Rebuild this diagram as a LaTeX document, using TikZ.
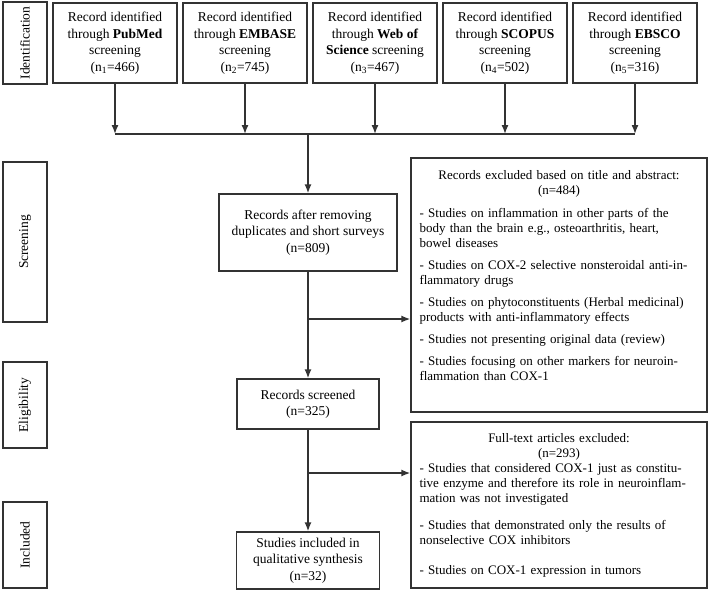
\documentclass[tikz,border=0pt]{standalone}
\usepackage{fontspec}
\setmainfont{Liberation Serif}
\usetikzlibrary{arrows.meta}
\definecolor{linegray}{HTML}{333333}

\begin{document}
\begin{tikzpicture}[x=1pt,y=-1pt,
		phase/.style={draw=linegray, line width=1.4pt, rotate=90, minimum height=44pt, inner sep=0pt, font=\fontsize{13.5}{16}\selectfont},
		srcbox/.style={draw=linegray, line width=1.4pt, minimum width=124pt, minimum height=80pt, inner sep=2pt, align=center, font=\fontsize{13.5}{16.5}\selectfont},
		flowbox/.style={draw=linegray, line width=1.4pt, inner sep=2pt, align=center, font=\fontsize{13.5}{16.3}\selectfont},
		exframe/.style={draw=linegray, line width=1.4pt, minimum width=296pt, inner sep=0pt},
		extext/.style={anchor=north, text width=279pt, inner sep=0pt, align=left, font=\fontsize{13}{15}\selectfont},
		arr/.style={draw=linegray, line width=1.4pt, -{Latex[length=9pt,width=7pt]}}]
					\useasboundingbox (0,0) rectangle (709,592);
					
					%phases
					\node [phase, minimum width=82pt] (ident) at (25,43) {Identification};
					\node [phase, minimum width=160pt] (scrph) at (25,242) {Screening};
					\node [phase, minimum width=86pt] (eligph) at (25,405) {Eligibility};
					\node [phase, minimum width=86pt] (inclph) at (25,545) {Included};
					
					%databases
					\node [srcbox] (pub) at (115,43) {Record identified\\through \textbf{PubMed}\\screening\\(n\textsubscript{1}=466)};
					\node [srcbox] (emb) at (245,43) {Record identified\\through \textbf{EMBASE}\\screening\\(n\textsubscript{2}=745)};
					\node [srcbox] (wos) at (375,43) {Record identified\\through \textbf{Web of}\\\textbf{Science} screening\\(n\textsubscript{3}=467)};
					\node [srcbox] (sco) at (505,43) {Record identified\\through \textbf{SCOPUS}\\screening\\(n\textsubscript{4}=502)};
					\node [srcbox] (ebs) at (635,43) {Record identified\\through \textbf{EBSCO}\\screening\\(n\textsubscript{5}=316)};
					
					%main column
					\node [flowbox, minimum width=178pt, minimum height=77pt] (dedup) at (308,232.5) {Records after removing\\duplicates and short surveys\\(n=809)};
					\node [flowbox, minimum width=142pt, minimum height=50pt] (scr) at (308,404) {Records screened\\(n=325)};
					\node [flowbox, minimum width=143pt, minimum height=57pt] (incl) at (308,560.5) {Studies included in\\qualitative synthesis\\(n=32)};
					
					%excluded
					\node [exframe, minimum height=254pt] (ex1) at (559,285) {};
					\node [extext] (ex1t) at ([yshift=-13pt]ex1.north) {\centering Records excluded based on title and abstract:\\(n=484)\par
						\vspace{8pt}\raggedright
						- Studies on inflammation in other parts of the\\
						body than the brain e.g., osteoarthritis, heart,\\
						bowel diseases\\[7pt]
						- Studies on COX-2 selective nonsteroidal anti-in-\\
						flammatory drugs\\[7pt]
						- Studies on phytoconstituents (Herbal medicinal)\\
						products with anti-inflammatory effects\\[7pt]
						- Studies not presenting original data (review)\\[7pt]
						- Studies focusing on other markers for neuroin-\\
						flammation than COX-1};
					\node [exframe, minimum height=166pt] (ex2) at (559,505) {};
					\node [extext] (ex2t) at ([yshift=-11.5pt]ex2.north) {\centering Full-text articles excluded:\\(n=293)\par
						\raggedright
						- Studies that considered COX-1 just as constitu-\\
						tive enzyme and therefore its role in neuroinflam-\\
						mation was not investigated\\[12pt]
						- Studies that demonstrated only the results of\\
						nonselective COX inhibitors\\[15pt]
						- Studies on COX-1 expression in tumors};
					
					%connectors
					\coordinate (hub) at (308,134);
					\coordinate (br1) at (308,319);
					\coordinate (br2) at (308,473);
					\draw [draw=linegray, line width=1.4pt] (pub.south |- hub) -- (ebs.south |- hub);
					\draw [arr] (pub.south) -- (pub.south |- hub);
					\draw [arr] (emb.south) -- (emb.south |- hub);
					\draw [arr] (wos.south) -- (wos.south |- hub);
					\draw [arr] (sco.south) -- (sco.south |- hub);
					\draw [arr] (ebs.south) -- (ebs.south |- hub);
					\draw [arr] (hub) -- (dedup);
					\draw [arr] (dedup) -- (scr);
					\draw [arr] (scr) -- (incl);
					\draw [arr] (br1) -- (br1 -| ex1.west);
					\draw [arr] (br2) -- (br2 -| ex2.west);
				\end{tikzpicture}
\end{document}
